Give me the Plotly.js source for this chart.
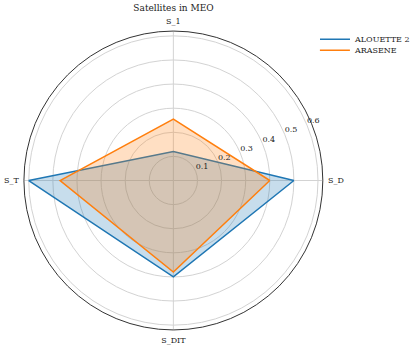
<!DOCTYPE html>
<html>
<head>
<meta charset="utf-8">
<script src="https://cdn.plot.ly/plotly-3.0.1.min.js"></script>
<style>
  html, body { margin: 0; padding: 0; background: #fff; overflow: hidden; }
  #grafico { width: 416px; height: 349px; }
</style>
</head>
<body>
<div id="grafico"></div>
<script>
// Eixos do radar (sentido anti-horário a partir da direita)
const categories = ['S_D', 'S_1', 'S_T', 'S_DIT'];
const alouette2 = [0.50, 0.12, 0.60, 0.40];
const arasene = [0.40, 0.255, 0.47, 0.38];
const radialTicks = [0.1, 0.2, 0.3, 0.4, 0.5, 0.6];
const radialRange = [0, 0.62];

// fecha o polígono repetindo o primeiro ponto
function closeLoop(arr) {
    return arr.concat([arr[0]]);
}

const blue = '#1f77b4';
const orange = '#ff7f0e';
const font = { family: 'DejaVu Serif', size: 8, color: '#222' };

const data = [
    {
        type: 'scatterpolar',
        name: 'ALOUETTE 2',
        r: closeLoop(alouette2),
        theta: closeLoop(categories),
        mode: 'lines',
        fill: 'toself',
        fillcolor: 'rgba(31,119,180,0.25)',
        line: { color: blue, width: 1.5 },
        showlegend: false
    },
    {
        type: 'scatterpolar',
        name: 'ARASENE',
        r: closeLoop(arasene),
        theta: closeLoop(categories),
        mode: 'lines',
        fill: 'toself',
        fillcolor: 'rgba(255,127,14,0.25)',
        line: { color: orange, width: 1.5 },
        showlegend: false
    },
    // entradas só para a legenda (linha simples, como no matplotlib)
    {
        type: 'scatterpolar', name: 'ALOUETTE 2', r: [null], theta: [null],
        mode: 'lines', line: { color: blue, width: 1.5 }, legend: 'legend'
    },
    {
        type: 'scatterpolar', name: 'ARASENE', r: [null], theta: [null],
        mode: 'lines', line: { color: orange, width: 1.5 }, legend: 'legend2'
    },
    // rótulos do eixo radial, na diagonal de 22.5 graus (subplot sobreposto)
    {
        type: 'scatterpolar',
        subplot: 'polar2',
        r: radialTicks,
        theta: radialTicks.map(() => 22.5),
        text: radialTicks.map(v => v.toFixed(1)),
        mode: 'text',
        textposition: 'top right',
        textfont: font,
        hoverinfo: 'skip',
        showlegend: false
    }
];

const domain = { x: [0.0575, 0.776], y: [0.0544, 0.9112] };

const legendBase = {
    yanchor: 'middle',
    bgcolor: 'rgba(255,255,255,0)',
    font: font
};

const layout = {
    width: 416,
    height: 349,
    autosize: false,
    margin: { l: 0, r: 0, t: 0, b: 0 },
    paper_bgcolor: '#fff',
    font: font,
    title: {
        text: 'Satellites in MEO',
        font: { family: 'DejaVu Serif', size: 9, color: '#222' },
        x: 0.417,
        xanchor: 'center',
        y: 0.977,
        yanchor: 'middle'
    },
    polar: {
        domain: domain,
        bgcolor: '#fff',
        radialaxis: {
            range: radialRange,
            tickvals: radialTicks,
            showticklabels: false,
            showline: false,
            ticks: '',
            gridcolor: '#d3d3d3',
            gridwidth: 1
        },
        angularaxis: {
            categoryarray: categories,
            rotation: 0,
            direction: 'counterclockwise',
            showline: true,
            linecolor: '#333',
            linewidth: 1,
            gridcolor: '#d3d3d3',
            ticks: 'outside',
            ticklen: 3,
            tickcolor: 'rgba(0,0,0,0)',
            tickfont: font
        }
    },
    polar2: {
        domain: domain,
        bgcolor: 'rgba(0,0,0,0)',
        radialaxis: { range: radialRange, visible: false },
        angularaxis: { rotation: 0, direction: 'counterclockwise', visible: false }
    },
    showlegend: true,
    legend: Object.assign({ x: 1, xanchor: 'right', y: 1 - 39.3 / 349 }, legendBase),
    legend2: Object.assign({ x: 0.757, xanchor: 'left', y: 1 - 50.3 / 349 }, legendBase)
};

Plotly.newPlot('grafico', data, layout, { displayModeBar: false });
</script>
</body>
</html>
